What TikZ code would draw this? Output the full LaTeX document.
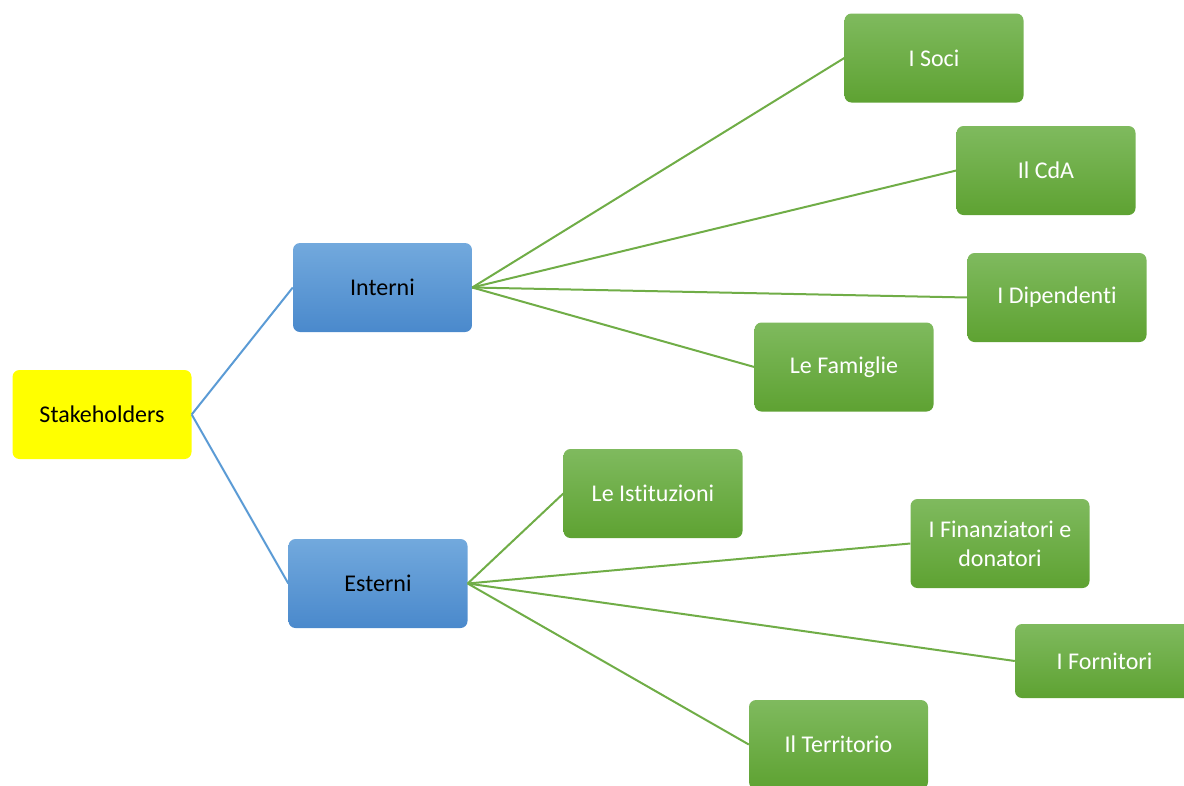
\documentclass[tikz,border=0pt]{standalone}
\usepackage{fontspec}
\setmainfont[Ligatures=NoCommon]{Carlito}
\definecolor{yel}{HTML}{FFFF00}
\definecolor{bluetop}{HTML}{72A9DD}
\definecolor{bluebot}{HTML}{4A89CC}
\definecolor{greentop}{HTML}{7FBA5E}
\definecolor{greenbot}{HTML}{5EA232}
\definecolor{blueline}{HTML}{5B9BD5}
\definecolor{greenline}{HTML}{70AD47}
\begin{document}
\begin{tikzpicture}[x=1pt,y=-1pt,
  box/.style={rounded corners=7pt, minimum width=179pt, minimum height=89pt, inner sep=2pt, align=center, font=\fontsize{24}{29}\selectfont},
  rootbox/.style={box, fill=yel, text=black},
  midbox/.style={box, top color=bluetop, bottom color=bluebot, text=black},
  leafbox/.style={box, top color=greentop, bottom color=greenbot, text=white},
  bline/.style={draw=blueline, line width=2pt},
  gline/.style={draw=greenline, line width=2pt}]
\useasboundingbox (0,0) rectangle (1184,785);
\clip (0,0) rectangle (1184,785);
\node[rootbox] (st) at (102,414.5) {Stakeholders};
\node[midbox] (in) at (382.5,287.5) {Interni};
\node[midbox] (es) at (378,583.5) {Esterni};
\node[leafbox] (soci) at (934,58) {I Soci};
\node[leafbox] (cda) at (1046,170.5) {Il CdA};
\node[leafbox] (dip) at (1057,297.5) {I Dipendenti};
\node[leafbox] (fam) at (844,367) {Le Famiglie};
\node[leafbox] (ist) at (653,493.5) {Le Istituzioni};
\node[leafbox] (fin) at (1000,543.5) {I Finanziatori e\\donatori};
\node[leafbox, minimum height=74pt] (for) at (1104.5,661) {I Fornitori};
\node[leafbox] (ter) at (838.5,744.5) {Il Territorio};
\draw[bline] (st.east) -- (in.west);
\draw[bline] (st.east) -- (es.west);
\foreach \t in {soci,cda,dip,fam} \draw[gline] (in.east) -- (\t.west);
\foreach \t in {ist,fin,for,ter} \draw[gline] (es.east) -- (\t.west);
\end{tikzpicture}
\end{document}
